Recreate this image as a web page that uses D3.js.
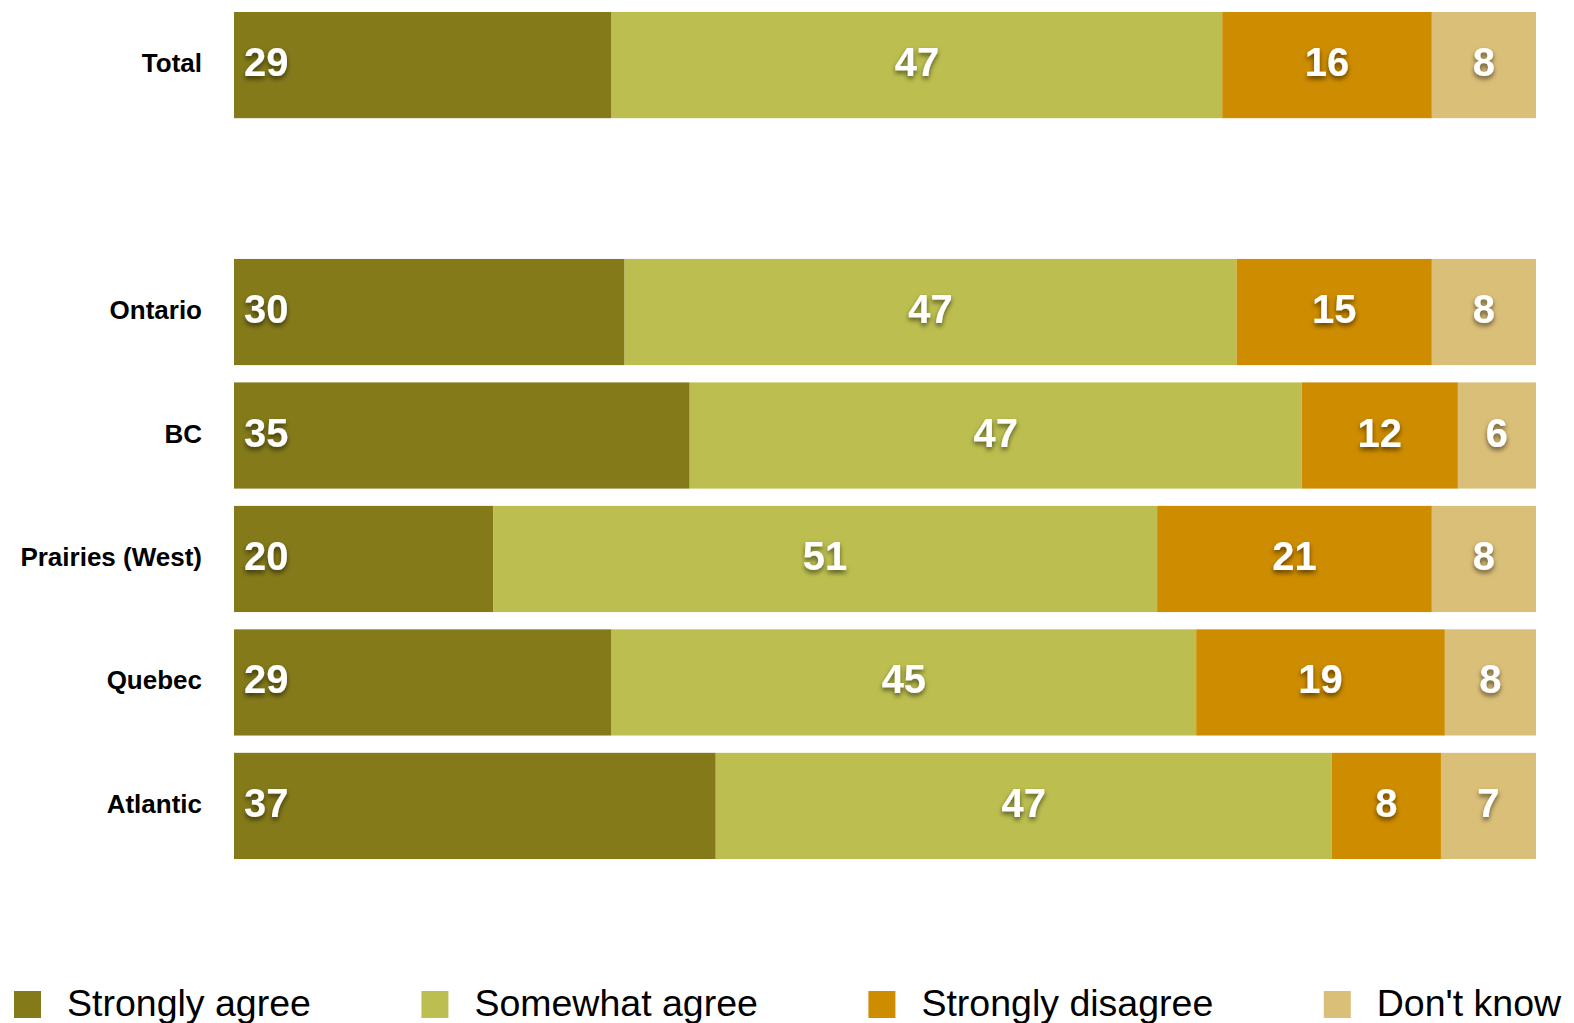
<!DOCTYPE html>
<html>
<head>
<meta charset="utf-8">
<script src="https://cdn.jsdelivr.net/npm/d3@7"></script>
<style>
  html, body { margin: 0; padding: 0; background: #fff; }
  svg { display: block; }
</style>
</head>
<body>
<svg id="chart" width="1574" height="1023"></svg>
<script>
// ---- Data ----
const categories = ["Total", "Ontario", "BC", "Prairies (West)", "Quebec", "Atlantic"];
const seriesNames = ["Strongly agree", "Somewhat agree", "Strongly disagree", "Don't know"];
const stronglyAgree     = [29,   30, 35, 19.9, 29,   37];
const somewhatAgree     = [46.9, 47, 47, 51,   44.9, 47.3];
const stronglyDisagree  = [16.1, 15, 12, 21.1, 19.1, 8.4];
const dontKnow          = [8,    8,  6,  8,    7.5,  7.3];
const colors = ["#847a1a", "#bcbf4f", "#ce8c00", "#dabf78"];

// ---- Build ----
const seriesValues = [stronglyAgree, somewhatAgree, stronglyDisagree, dontKnow];
const rows = categories.map((c, i) => {
  const r = { category: c };
  seriesNames.forEach((s, j) => r[s] = seriesValues[j][i]);
  return r;
});
const stacked = d3.stack().keys(seriesNames)(rows);

const svg = d3.select("#chart");
const defs = svg.append("defs");
const f = defs.append("filter").attr("id", "shadow")
  .attr("x", "-30%").attr("y", "-30%").attr("width", "160%").attr("height", "180%");
f.append("feDropShadow").attr("dx", 0).attr("dy", 3).attr("stdDeviation", 2.5)
  .attr("flood-color", "#000").attr("flood-opacity", 0.55);

const bandDomain = [categories[0], "__gap__", ...categories.slice(1)];
const y = d3.scaleBand().domain(bandDomain).range([12, 859]).paddingInner(0.14).paddingOuter(0);
const x = d3.scaleLinear().domain([0, 100]).range([234, 1536]).clamp(true);
const color = d3.scaleOrdinal().domain(seriesNames).range(colors);

const layers = svg.append("g").selectAll("g").data(stacked).join("g")
  .attr("fill", d => color(d.key));

layers.selectAll("rect").data(d => d).join("rect")
  .attr("x", d => x(d[0]))
  .attr("y", d => y(d.data.category))
  .attr("width", d => x(d[1]) - x(d[0]))
  .attr("height", y.bandwidth());

// value labels
const labelG = svg.append("g")
  .attr("font-family", "'Liberation Sans', Arial, Helvetica, sans-serif")
  .attr("font-weight", "bold")
  .attr("font-size", 40)
  .attr("fill", "#fff")
  .attr("filter", "url(#shadow)");

stacked.forEach((layer, li) => {
  labelG.selectAll(null).data(layer).join("text")
    .attr("x", d => li === 0 ? x(d[0]) + 10 : (x(d[0]) + x(d[1])) / 2)
    .attr("y", d => y(d.data.category) + y.bandwidth() / 2 + 11)
    .attr("text-anchor", li === 0 ? "start" : "middle")
    .text(d => Math.round(d.data[layer.key]));
});

// category labels
svg.append("g")
  .attr("font-family", "'Liberation Sans', Arial, Helvetica, sans-serif")
  .attr("font-weight", "bold")
  .attr("font-size", 26)
  .attr("fill", "#000")
  .selectAll("text").data(categories).join("text")
  .attr("x", 202)
  .attr("y", d => y(d) + y.bandwidth() / 2 + 7)
  .attr("text-anchor", "end")
  .text(d => d);

// legend (items flow one after another)
const legendG = svg.append("g");
let lx = 14;
seriesNames.forEach(name => {
  const g = legendG.append("g").attr("transform", `translate(${lx},0)`);
  g.append("rect").attr("x", 0).attr("y", 991).attr("width", 27).attr("height", 27)
    .attr("fill", color(name));
  const t = g.append("text").attr("x", 53).attr("y", 1016)
    .attr("font-family", "'Liberation Sans', Arial, Helvetica, sans-serif")
    .attr("font-size", 37.5).attr("fill", "#000")
    .text(name);
  lx += 53 + t.node().getComputedTextLength() + 110.5;
});
</script>
</body>
</html>
